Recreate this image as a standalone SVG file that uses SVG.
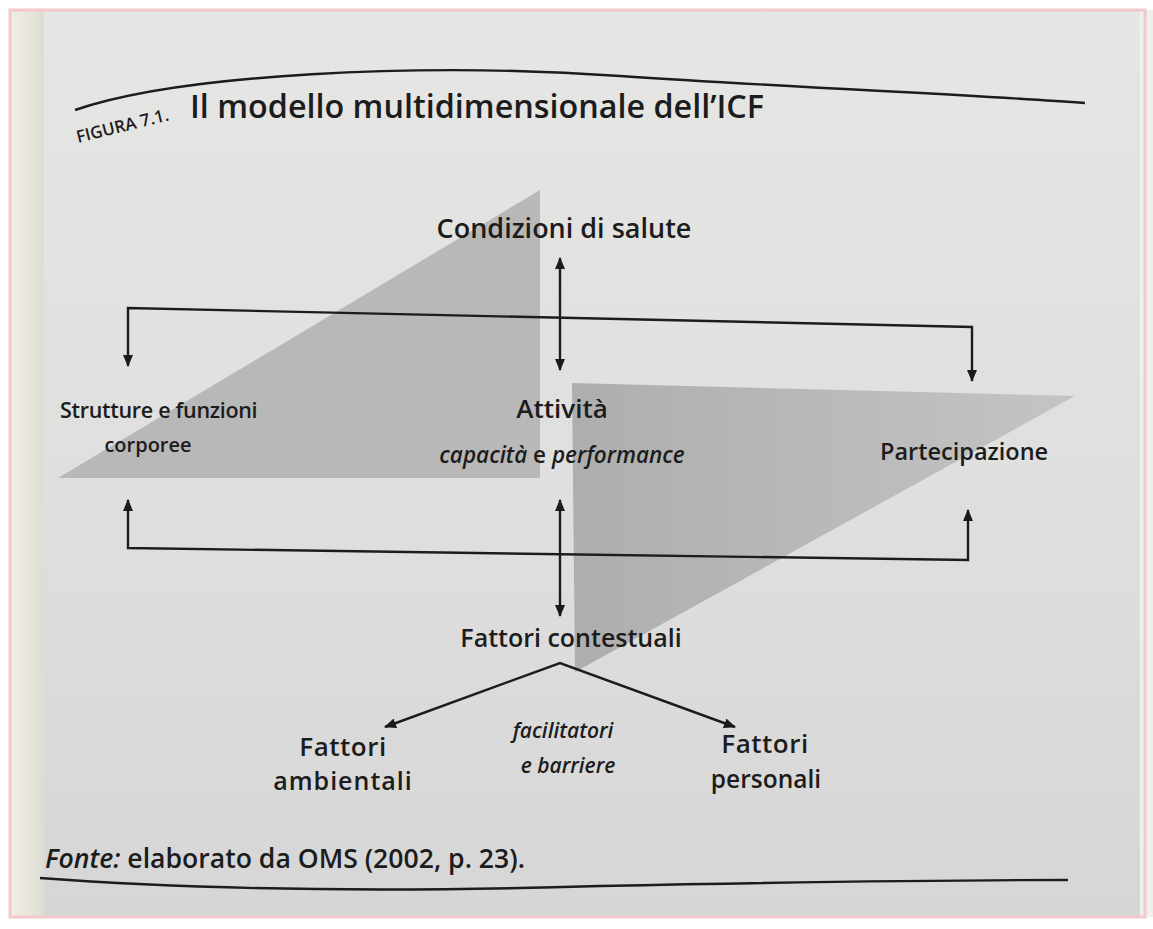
<svg xmlns="http://www.w3.org/2000/svg" width="1153" height="929" viewBox="0 0 1153 929">
<defs>
<linearGradient id="bg" x1="0" y1="0" x2="0" y2="1">
<stop offset="0" stop-color="#e6e6e4"/>
<stop offset="0.6" stop-color="#dedede"/>
<stop offset="1" stop-color="#d6d6d6"/>
</linearGradient>
<linearGradient id="gut" x1="0" y1="0" x2="1" y2="0">
<stop offset="0" stop-color="#efeee6"/>
<stop offset="0.7" stop-color="#e6e4d8"/>
<stop offset="1" stop-color="#dcdcd6"/>
</linearGradient>
<linearGradient id="tri2" x1="0" y1="0" x2="1" y2="0">
<stop offset="0" stop-color="#aeaeae"/>
<stop offset="1" stop-color="#c4c4c4"/>
</linearGradient>
<marker id="ah" viewBox="0 0 12 10" refX="11" refY="5" markerWidth="12" markerHeight="10" markerUnits="userSpaceOnUse" orient="auto-start-reverse">
<path d="M0,0 L12,5 L0,10 z" fill="#1a1a1a"/>
</marker>
<style>
text{font-family:"Open Sans","Noto Sans","Liberation Sans",sans-serif;fill:#1c1c1c;font-weight:600}
.it{font-style:italic}
.cn{text-anchor:middle}
.ln{fill:none;stroke:#1c1c1c;stroke-width:2.4}
.ar{marker-start:url(#ah);marker-end:url(#ah)}
</style>
</defs>
<rect width="1153" height="929" fill="#ffffff"/>
<rect x="10" y="10" width="1135" height="907" fill="url(#bg)"/>
<rect x="10" y="10" width="34" height="907" fill="url(#gut)"/>
<rect x="1140" y="10" width="13" height="907" fill="#eef0ec"/>
<rect x="10" y="10" width="1135" height="907" fill="none" stroke="#f2c8cc" stroke-width="3"/>
<g id="shapes">
<polygon points="58,478 540,190 540,478" fill="#b8b8b8"/>
<polygon points="572,383 1075,396 575,672" fill="url(#tri2)"/>
</g>
<g id="title">
<path class="ln" d="M75,110 C180,74 420,62 620,76 C800,88 980,95 1085,103"/>
<text x="78" y="143" font-size="17" transform="rotate(-14 78 143)">FIGURA 7.1.</text>
<text x="190" y="118" font-size="32.3">Il modello multidimensionale dell’ICF</text>
</g>
<g id="connectors">
<line class="ln ar" x1="560" y1="258" x2="560" y2="370"/>
<path class="ln ar" d="M128,366 L128,308 L972,327 L972,381"/>
<path class="ln ar" d="M128,500 L128,548 L968,560 L968,510"/>
<line class="ln ar" x1="560" y1="500" x2="560" y2="616"/>
<path class="ln ar" d="M385,727 L560,663 L735,727"/>
</g>
<g id="n-condizioni"><text class="cn" x="564" y="238" font-size="27">Condizioni di salute</text></g>
<g id="n-strutture">
<text x="60" y="418" font-size="21.5" letter-spacing="-0.3">Strutture e funzioni</text>
<text class="cn" x="148" y="452" font-size="20">corporee</text>
</g>
<g id="n-attivita">
<text class="cn" x="562" y="418" font-size="26">Attività</text>
<text class="cn" x="562" y="463" font-size="22.5"><tspan class="it">capacità</tspan> e <tspan class="it">performance</tspan></text>
</g>
<g id="n-partecipazione"><text x="880" y="460" font-size="23.5">Partecipazione</text></g>
<g id="n-contestuali"><text class="cn" x="571" y="647" font-size="25">Fattori contestuali</text></g>
<g id="n-ambientali">
<text class="cn" x="343" y="756" font-size="26" letter-spacing="0.5">Fattori</text>
<text class="cn" x="343" y="790" font-size="25" letter-spacing="1">ambientali</text>
</g>
<g id="n-facilitatori">
<text class="it cn" x="563" y="738" font-size="21">facilitatori</text>
<text class="it cn" x="568" y="773" font-size="21">e barriere</text>
</g>
<g id="n-personali">
<text class="cn" x="765" y="753" font-size="26" letter-spacing="0.5">Fattori</text>
<text class="cn" x="766" y="788" font-size="24.5">personali</text>
</g>
<g id="footer">
<text x="45" y="868" font-size="26.6"><tspan class="it">Fonte:</tspan> elaborato da OMS (2002, p. 23).</text>
<path class="ln" d="M40,878 C200,890 400,892 600,886 C800,882 950,880 1068,880"/>
</g>
</svg>
